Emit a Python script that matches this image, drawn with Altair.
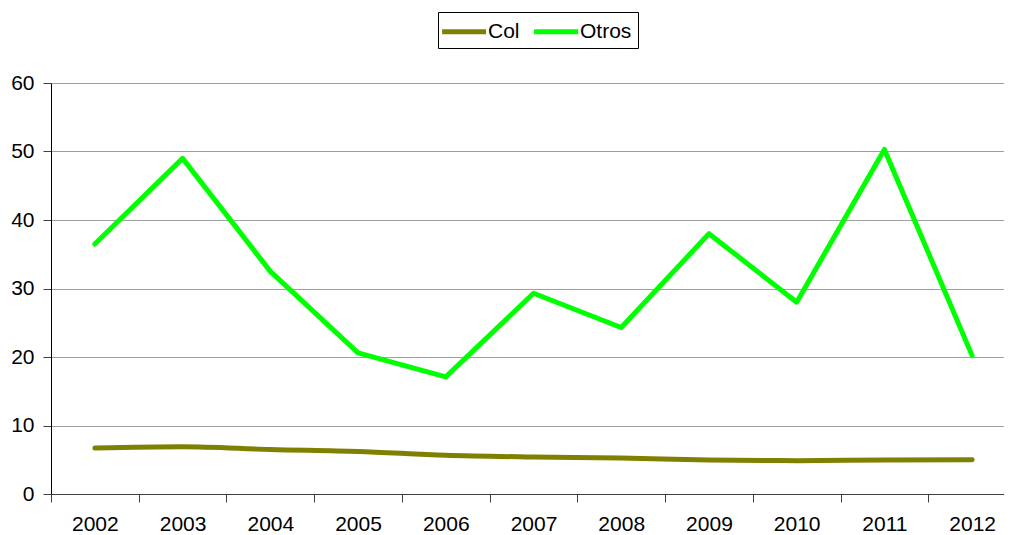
import altair as alt
import pandas as pd

years = ["2002", "2003", "2004", "2005", "2006", "2007", "2008", "2009", "2010", "2011", "2012"]
col_values = [6.7, 6.9, 6.5, 6.2, 5.65, 5.4, 5.25, 4.97, 4.87, 4.97, 5.0]
otros_values = [36.5, 49.0, 32.5, 20.6, 17.1, 29.3, 24.3, 38.0, 28.0, 50.3, 20.2]
series_names = ["Col", "Otros"]
series_colors = ["#808000", "#00FF00"]

rows = []
for name, vals in zip(series_names, [col_values, otros_values]):
    for y, v in zip(years, vals):
        rows.append({"year": y, "value": v, "series": name})
df = pd.DataFrame(rows)

FONT = "Liberation Sans"

x = alt.X(
    "year:O",
    bandPosition=0.5,
    scale=alt.Scale(type="band", paddingInner=0, paddingOuter=0, range=[0, 965]),
    axis=alt.Axis(
        title=None, labelAngle=0, tickBand="extent", labelFontSize=21,
        labelFont=FONT, labelColor="black", domainColor="#404040",
        tickColor="#404040", tickSize=8, labelPadding=11, grid=False,
    ),
)
y = alt.Y(
    "value:Q",
    scale=alt.Scale(domain=[0, 60], nice=False),
    axis=alt.Axis(
        title=None, values=[0, 10, 20, 30, 40, 50, 60], labelFontSize=21,
        labelFont=FONT, labelColor="black", domainColor="black",
        tickColor="#404040", tickSize=8, labelPadding=9,
        gridColor="#A0A0A0", gridWidth=1,
    ),
)
color = alt.Color(
    "series:N",
    scale=alt.Scale(domain=series_names, range=series_colors),
    legend=alt.Legend(
        title=None, orient="none", direction="horizontal",
        legendX=387, legendY=-71, symbolType="M-1.4,0L2.6,0", symbolSize=484,
        symbolStrokeWidth=5, labelFontSize=21, labelFont=FONT,
        labelColor="black", strokeColor="black", padding=6,
        columnPadding=4, labelOffset=17, fillColor="white",
    ),
)

col_line = alt.Chart(df).transform_filter(alt.datum.series == "Col").mark_line(
    strokeWidth=5, interpolate="monotone", strokeCap="round", strokeJoin="round"
).encode(x=x, y=y, color=color)
otros_line = alt.Chart(df).transform_filter(alt.datum.series == "Otros").mark_line(
    strokeWidth=5, strokeCap="round", strokeJoin="round"
).encode(x=x, y=y, color=color)

chart = alt.layer(col_line, otros_line).properties(
    width=953, height=411,
    autosize=alt.AutoSizeParams(type="none"),
    padding={"left": 43, "top": 75, "right": 0, "bottom": 40},
).configure_view(stroke=None).configure(background="white")

chart.save("out.html", embed_options={"renderer": "svg", "actions": False})
